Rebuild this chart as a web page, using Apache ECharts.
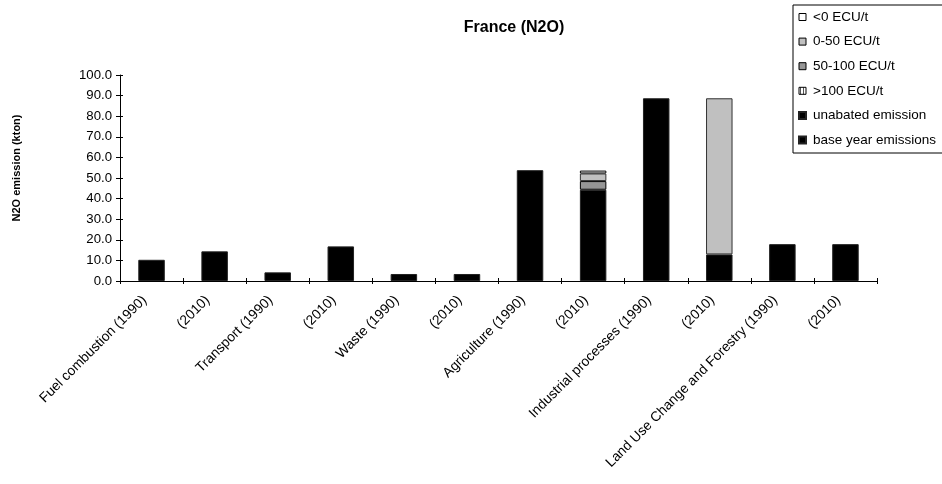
<!DOCTYPE html>
<html>
<head>
<meta charset="utf-8">
<script src="https://cdn.jsdelivr.net/npm/echarts@6/dist/echarts.min.js"></script>
<style>
  html, body { margin: 0; padding: 0; background: #fff; }
  #chart { width: 942px; height: 484px; }
</style>
</head>
<body>
<div id="chart"></div>
<script>
// Source categories (1990 base year and 2010 projection per sector)
const categories = [
  'Fuel combustion (1990)', '(2010)',
  'Transport (1990)', '(2010)',
  'Waste (1990)', '(2010)',
  'Agriculture (1990)', '(2010)',
  'Industrial processes (1990)', '(2010)',
  'Land Use Change and Forestry (1990)', '(2010)'
];

// N2O emissions in kton, stacked from bottom to top
const baseYearEmissions = [10.3, '-', 4.2, '-', 3.4, '-', 53.8, '-', 88.7, '-', 17.9, '-'];
const unabatedEmission  = ['-', 14.4, '-', 16.8, '-', 3.4, '-', 44.3, '-', 12.9, '-', 17.9];
const costAbove100      = ['-', '-', '-', '-', '-', '-', '-', '-', '-', '-', '-', '-'];
const cost50to100       = ['-', '-', '-', '-', '-', '-', '-', 4.2, '-', '-', '-', '-'];
const cost0to50         = ['-', '-', '-', '-', '-', '-', '-', 3.7, '-', 75.8, '-', '-'];
const costBelow0        = ['-', '-', '-', '-', '-', '-', '-', 1.4, '-', '-', '-', '-'];

const yTicks = [0, 10, 20, 30, 40, 50, 60, 70, 80, 90, 100];

// vertical hatch fill for the >100 ECU/t class
const hatch = document.createElement('canvas');
hatch.width = 3; hatch.height = 3;
(function () {
  const c = hatch.getContext('2d');
  c.fillStyle = '#ffffff'; c.fillRect(0, 0, 3, 3);
  c.fillStyle = '#555555'; c.fillRect(1, 0, 1, 3);
})();

const FONT = 'Liberation Sans, Arial, sans-serif';
const chart = echarts.init(document.getElementById('chart'), null, { renderer: 'canvas' });

function barSeries(name, data, color, border) {
  return {
    name: name,
    type: 'bar',
    stack: 'total',
    data: data,
    barWidth: '42%',
    xAxisIndex: 0,
    yAxisIndex: 0,
    itemStyle: { color: color, borderColor: border, borderWidth: 1 },
    emphasis: { disabled: true }
  };
}

const yMin = yTicks[0], yMax = yTicks[yTicks.length - 1], yStep = yTicks[1] - yTicks[0];
const boxed = { borderColor: '#000', borderWidth: 1 };

chart.setOption({
  animation: false,
  backgroundColor: '#ffffff',
  textStyle: { fontFamily: FONT, color: '#000' },
  title: {
    text: 'France (N2O)',
    left: 509,
    top: 15,
    textAlign: 'center',
    textStyle: { fontFamily: FONT, fontSize: 16, fontWeight: 'bold', color: '#000' }
  },
  graphic: [{
    type: 'text',
    x: 17,
    y: 168,
    rotation: Math.PI / 2,
    style: {
      text: 'N2O emission (kton)',
      fontFamily: FONT, fontSize: 11, fontWeight: 'bold', fill: '#000',
      align: 'center', verticalAlign: 'middle'
    }
  }],
  legend: {
    orient: 'vertical',
    left: 793,
    top: 5,
    padding: [4, 30, 5, 5],
    icon: 'rect',
    itemWidth: 7,
    itemHeight: 7,
    itemGap: 8.6,
    borderColor: '#000',
    borderWidth: 1,
    selectedMode: false,
    textStyle: { fontFamily: FONT, fontSize: 13.5, color: '#000', padding: [0, 0, 0, 2], lineHeight: 16 },
    data: [
      { name: '<0 ECU/t', itemStyle: boxed },
      { name: '0-50 ECU/t', itemStyle: boxed },
      { name: '50-100 ECU/t', itemStyle: boxed },
      { name: '>100 ECU/t', itemStyle: boxed },
      { name: 'unabated emission' },
      { name: 'base year emissions' }
    ]
  },
  grid: { left: 120, right: 65, top: 75, bottom: 203, containLabel: false },
  xAxis: [
    {
      type: 'category',
      data: categories,
      position: 'bottom',
      axisLine: { show: true, lineStyle: { color: '#000', width: 1 } },
      axisTick: { show: true, alignWithLabel: false, interval: 0, length: 3, lineStyle: { color: '#000' } },
      axisLabel: { rotate: 45, interval: 0, fontSize: 13.8, color: '#000', fontFamily: FONT,
                   margin: 10, padding: [0, 10, 0, 0] }
    },
    {
      type: 'category',
      data: categories,
      position: 'bottom',
      axisLine: { show: false },
      axisTick: { show: true, inside: true, interval: 0, length: 3, lineStyle: { color: '#000' } },
      axisLabel: { show: false }
    }
  ],
  yAxis: [
    {
      type: 'value',
      min: yMin, max: yMax, interval: yStep,
      axisLine: { show: true, lineStyle: { color: '#000', width: 1 } },
      axisTick: { show: true, length: 4, lineStyle: { color: '#000' } },
      axisLabel: { fontSize: 13.2, color: '#000', fontFamily: FONT, margin: 8,
                   formatter: v => v.toFixed(1) },
      splitLine: { show: false }
    },
    {
      type: 'value',
      position: 'left',
      min: yMin, max: yMax, interval: yStep,
      axisLine: { show: false },
      axisTick: { show: true, inside: true, length: 3, lineStyle: { color: '#000' } },
      axisLabel: { show: false },
      splitLine: { show: false }
    }
  ],
  series: [
    barSeries('base year emissions', baseYearEmissions, '#000000', '#222'),
    barSeries('unabated emission', unabatedEmission, '#000000', '#222'),
    barSeries('>100 ECU/t', costAbove100, { image: hatch, repeat: 'repeat' }, '#000'),
    barSeries('50-100 ECU/t', cost50to100, '#969696', '#000'),
    barSeries('0-50 ECU/t', cost0to50, '#c0c0c0', '#333'),
    barSeries('<0 ECU/t', costBelow0, '#ffffff', '#000')
  ]
});
</script>
</body>
</html>
